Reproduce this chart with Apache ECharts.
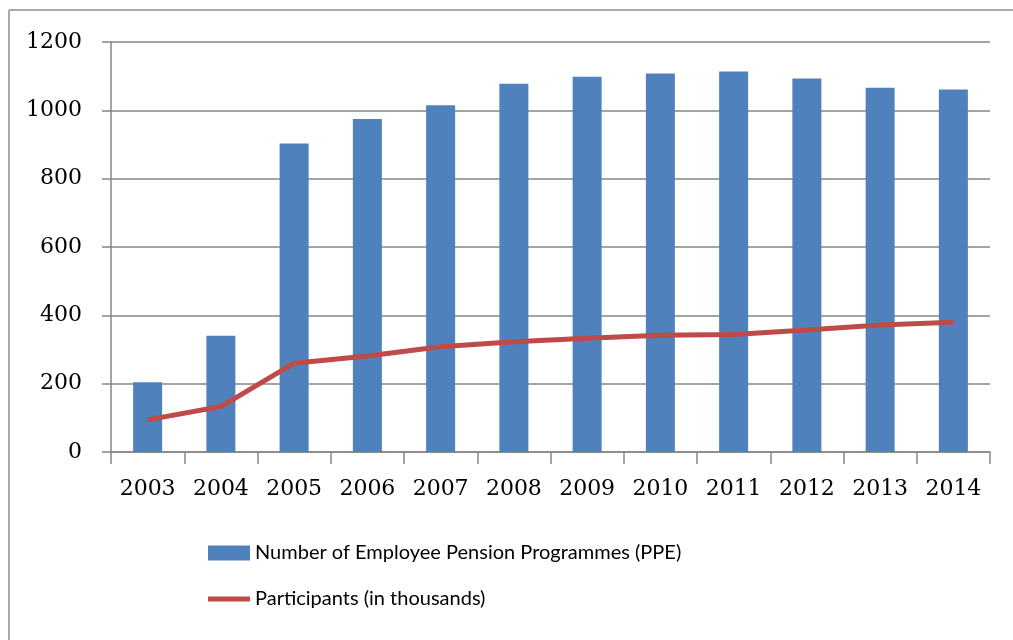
<!DOCTYPE html>
<html><head><meta charset="utf-8">
<script src="https://cdn.jsdelivr.net/npm/echarts@6/dist/echarts.min.js"></script>
<style>html,body{margin:0;padding:0;background:#fff}#c{width:1013px;height:640px}</style>
</head><body><div id="c"></div>
<script>
const years = ['2003','2004','2005','2006','2007','2008','2009','2010','2011','2012','2013','2014'];
const programmes = [204, 340, 903, 975, 1015, 1078, 1098, 1108, 1114, 1093, 1066, 1061];
const participants = [94, 133, 260, 281, 308, 323, 333, 342, 344, 357, 372, 380];
const yTicks = [0, 200, 400, 600, 800, 1000, 1200];
const barName = 'Number of Employee Pension Programmes (PPE)';
const lineName = 'Participants (in thousands)';

const chart = echarts.init(document.getElementById('c'));
const axisFont = {fontFamily: '"DejaVu Serif"', fontSize: 22, color: '#000000'};
const legendFont = {fontFamily: 'Lato, sans-serif', fontSize: 20, color: '#000000'};
chart.setOption({
  animation: false,
  backgroundColor: '#ffffff',
  graphic: [
    {type: 'line', shape: {x1: 9, y1: 10, x2: 1013, y2: 10}, style: {stroke: '#8c8c8c', lineWidth: 1.5}},
    {type: 'line', shape: {x1: 9, y1: 10, x2: 9, y2: 640}, style: {stroke: '#8c8c8c', lineWidth: 1.5}}
  ],
  grid: {left: 111, right: 23, top: 42, bottom: 188, containLabel: false},
  legend: [
    {data: [{name: barName, icon: 'rect'}], orient: 'vertical', left: 203, top: 538, itemWidth: 42, itemHeight: 15, textStyle: legendFont},
    {data: [{name: lineName, icon: 'rect'}], orient: 'vertical', left: 203, top: 584, itemWidth: 42, itemHeight: 5, textStyle: legendFont}
  ],
  xAxis: {
    type: 'category', data: years,
    axisLine: {lineStyle: {color: '#868686', width: 1.5}},
    axisTick: {show: true, length: 12, alignWithLabel: false, lineStyle: {color: '#868686', width: 1.5}},
    axisLabel: Object.assign({margin: 26, interval: 0}, axisFont)
  },
  yAxis: {
    type: 'value', min: 0, max: 1200, interval: 200,
    axisLine: {show: true, lineStyle: {color: '#868686', width: 1.5}},
    axisTick: {show: true, length: 9, lineStyle: {color: '#868686', width: 1.5}},
    splitLine: {lineStyle: {color: '#868686', width: 1.5}},
    axisLabel: Object.assign({margin: 29, formatter: v => yTicks.includes(v) ? String(v) : ''}, axisFont)
  },
  series: [
    {name: barName, type: 'bar', data: programmes, barWidth: 29, itemStyle: {color: '#4F81BD'}},
    {name: lineName, type: 'line', data: participants, showSymbol: false, symbol: 'none',
     lineStyle: {color: '#BE4B48', width: 5}, itemStyle: {color: '#BE4B48'}}
  ]
});
</script></body></html>
